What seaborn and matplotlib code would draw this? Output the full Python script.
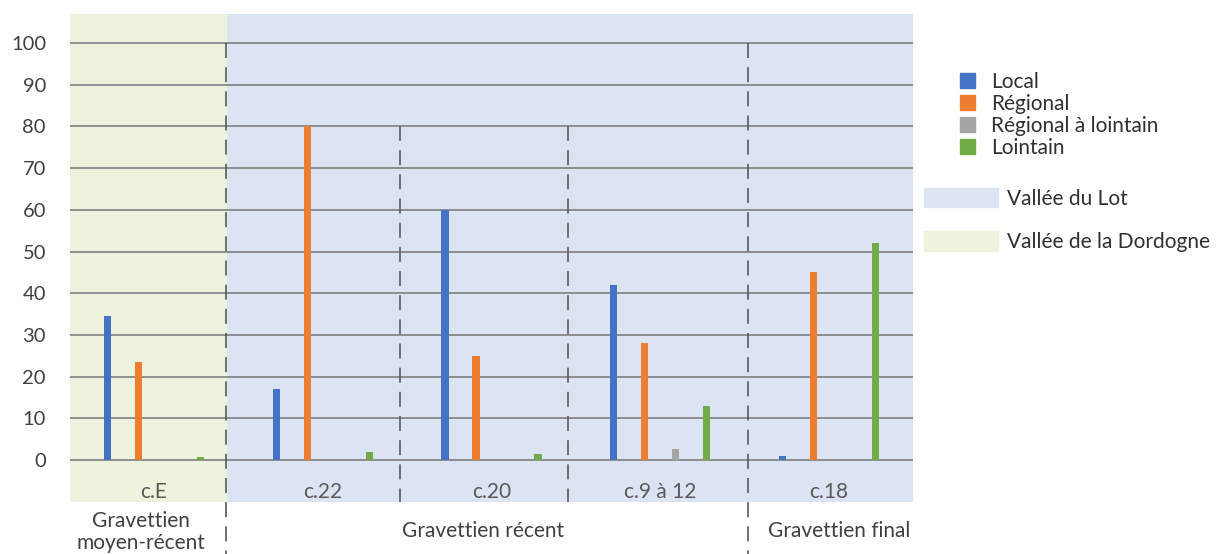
import pandas as pd
import matplotlib.pyplot as plt
import matplotlib.patches as mpatches
import seaborn as sns

couches = ['c.E', 'c.22', 'c.20', 'c.9 à 12', 'c.18']
sources = ['Local', 'Régional', 'Régional à lointain', 'Lointain']
local = [34.5, 17, 60, 42, 1]
regional = [23.5, 80, 25, 28, 45]
reg_lointain = [0, 0, 0, 2.6, 0]
lointain = [0.8, 2, 1.6, 13, 52]
couleurs = ['#4472C4', '#ED7D31', '#A5A5A5', '#70AD47']

periodes = ['Gravettien\nmoyen-récent', 'Gravettien récent', 'Gravettien final']
vallees = ['Vallée du Lot', 'Vallée de la Dordogne']
fond_lot = '#DCE4F3'
fond_dordogne = '#EEF3DD'

df = pd.DataFrame({
    'couche': couches * 4,
    'source': [s for s in sources for _ in couches],
    'pct': local + regional + reg_lointain + lointain,
})

sns.set_theme(style='white')
plt.rcParams['font.family'] = ['Lato', 'DejaVu Sans']

fig = plt.figure(figsize=(12.21, 5.54), dpi=100)
ax = fig.add_axes([0.057, 0.094, 0.691, 0.881])
ax.set_facecolor(fond_lot)

sns.barplot(data=df, x='couche', y='pct', hue='source', hue_order=sources,
            palette=couleurs, width=0.735, gap=0.77, saturation=1,
            linewidth=0, legend=False, ax=ax)

ax.set_xlim(-0.5, 4.5)
ax.set_ylim(-10, 107)
# green shading for c.E (vallée de la Dordogne)
ax.axvspan(-0.5, 0.427, color=fond_dordogne, zorder=0)

ax.set_yticks(range(0, 101, 10))
ax.set_xticks([])
ax.grid(axis='y', color='#7f7f7f', lw=1.2)
ax.set_axisbelow(True)
ax.tick_params(axis='y', length=0, pad=17, labelsize=14.5, labelcolor='#404040')
ax.set_xlabel('')
ax.set_ylabel('')
for s in ax.spines.values():
    s.set_visible(False)

for i, c in enumerate(couches):
    ax.text(i, -7.7, c, ha='center', va='center', fontsize=15, color='#595959')

# dashed separators
dash = dict(color='#595959', lw=1.2, ls=(0, (9, 5.5)), clip_on=False, zorder=3)
ax.plot([0.427, 0.427], [100, -22.5], **dash)
ax.plot([1.458, 1.458], [80, -10], **dash)
ax.plot([2.454, 2.454], [80, -10], **dash)
ax.plot([3.52, 3.52], [100, -22.5], **dash)

ax.text(-0.077, -17.2, periodes[0], ha='center', va='center', fontsize=15,
        color='#404040', linespacing=1.1)
ax.text(1.95, -17, periodes[1], ha='center', va='center', fontsize=15, color='#404040')
ax.text(4.06, -17, periodes[2], ha='center', va='center', fontsize=15, color='#404040')

h1 = [mpatches.Patch(color=c) for c in couleurs]
leg1 = fig.legend(h1, sources, loc='upper left', bbox_to_anchor=(0.778, 0.889),
                  frameon=False, fontsize=15, handlelength=0.72, handleheight=0.72,
                  handletextpad=0.75, labelspacing=0.1, borderpad=0)
for t in leg1.get_texts():
    t.set_color('#303030')

h2 = [mpatches.Patch(color=fond_lot), mpatches.Patch(color=fond_dordogne)]
leg2 = fig.legend(h2, vallees, loc='upper left', bbox_to_anchor=(0.748, 0.68),
                  frameon=False, fontsize=15, handlelength=3.55, handleheight=1.06,
                  handletextpad=0.45, labelspacing=1.1, borderpad=0)
for t in leg2.get_texts():
    t.set_color('#303030')

fig.savefig('out.png', dpi=100)
